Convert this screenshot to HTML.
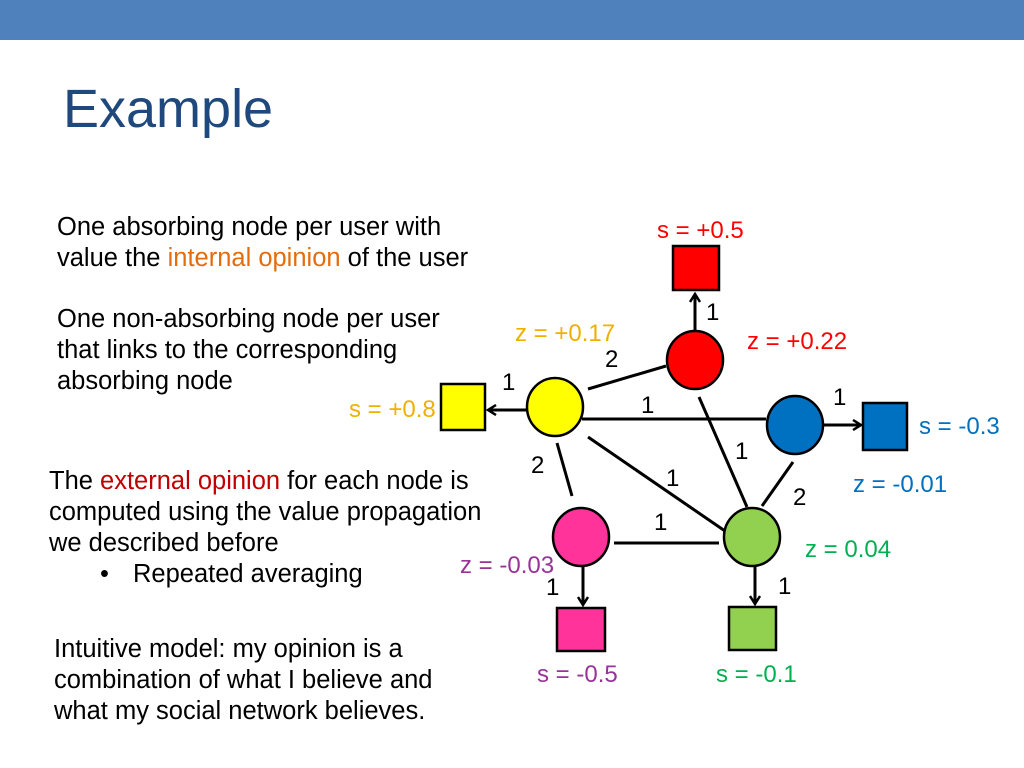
<!DOCTYPE html>
<html><head><meta charset="utf-8"><style>
body{margin:0;width:1024px;height:768px;background:#fff;position:relative;overflow:hidden;font-family:"Liberation Sans",Arial,sans-serif}
.bar{position:absolute;left:0;top:0;width:1024px;height:40px;background:#4f81bd}
.t{position:absolute;left:63px;top:82px;font-size:54px;color:#1f497d;line-height:1}
.p{position:absolute;font-size:25.5px;line-height:31px;color:#000;white-space:nowrap}
svg{position:absolute;left:0;top:0}
</style></head><body>
<div class="bar"></div>
<div class="t">Example</div>
<div class="p" style="left:57px;top:212px">One absorbing node per user with<br>value the <span style="color:#e46c0a">internal opinion</span> of the user</div>
<div class="p" style="left:57px;top:304px">One non-absorbing node per user<br>that links to the corresponding<br>absorbing node</div>
<div class="p" style="left:49px;top:466px">The <span style="color:#c00000">external opinion</span> for each node is<br>computed using the value propagation<br>we described before</div>
<div class="p" style="left:100px;top:559px">•</div>
<div class="p" style="left:133px;top:559px">Repeated averaging</div>
<div class="p" style="left:54px;top:634px">Intuitive model: my opinion is a<br>combination of what I believe and<br>what my social network believes.</div>
<svg width="1024" height="768" font-family="Liberation Sans, Arial, sans-serif" font-size="24">
<defs><marker id="a" markerWidth="12" markerHeight="12" refX="9" refY="6" orient="auto" markerUnits="userSpaceOnUse"><path d="M1,1 L9,6 L1,11" fill="none" stroke="#000" stroke-width="2.5"/></marker></defs>
<g stroke="#000" stroke-width="3" fill="none">
<line x1="588" y1="389" x2="666" y2="366"/>
<line x1="582" y1="419" x2="766" y2="419"/>
<line x1="588" y1="437" x2="725" y2="531"/>
<line x1="699" y1="397" x2="747" y2="507"/>
<line x1="793" y1="462" x2="762" y2="506"/>
<line x1="557" y1="443" x2="572" y2="496"/>
<line x1="614" y1="543" x2="719" y2="543"/>
<line x1="695" y1="330" x2="695" y2="294" marker-end="url(#a)"/>
<line x1="527" y1="410" x2="488" y2="410" marker-end="url(#a)"/>
<line x1="823" y1="425" x2="861" y2="425" marker-end="url(#a)"/>
<line x1="583" y1="566" x2="583" y2="605" marker-end="url(#a)"/>
<line x1="755" y1="566" x2="755" y2="604" marker-end="url(#a)"/>
</g>
<g stroke="#000" stroke-width="2.5">
<rect x="673" y="246" width="46" height="44" fill="#ff0000"/>
<rect x="441" y="384" width="44" height="46" fill="#ffff00"/>
<rect x="863" y="403" width="44" height="47" fill="#0070c0"/>
<rect x="557" y="608" width="48" height="43" fill="#ff3399"/>
<rect x="729" y="607" width="47" height="43" fill="#92d050"/>
<ellipse cx="695" cy="360" rx="28" ry="29" fill="#ff0000"/>
<ellipse cx="555" cy="407" rx="28" ry="29" fill="#ffff00"/>
<ellipse cx="795" cy="425" rx="28" ry="29" fill="#0070c0"/>
<ellipse cx="581" cy="537" rx="28" ry="29" fill="#ff3399"/>
<ellipse cx="752" cy="537" rx="28" ry="29" fill="#92d050"/>
</g>
<g fill="#000">
<text x="706" y="320">1</text><text x="605" y="367">2</text><text x="502" y="390">1</text>
<text x="641" y="413">1</text><text x="833" y="405">1</text><text x="735" y="459">1</text>
<text x="531" y="473">2</text><text x="666" y="486">1</text><text x="793" y="505">2</text>
<text x="654" y="530">1</text><text x="546" y="595">1</text><text x="778" y="594">1</text>
</g>
<text x="657" y="238" fill="#ff0000">s = +0.5</text>
<text x="747" y="349" fill="#ff0000">z = +0.22</text>
<text x="515" y="341" fill="#f0b000">z = +0.17</text>
<text x="349" y="417" fill="#f0b000">s = +0.8</text>
<text x="919" y="434" fill="#0070c0">s = -0.3</text>
<text x="853" y="492" fill="#0070c0">z = -0.01</text>
<text x="805" y="557" fill="#00b050">z = 0.04</text>
<text x="460" y="573" fill="#993399">z = -0.03</text>
<text x="537" y="682" fill="#993399">s = -0.5</text>
<text x="716" y="682" fill="#00b050">s = -0.1</text>
</svg>
</body></html>
